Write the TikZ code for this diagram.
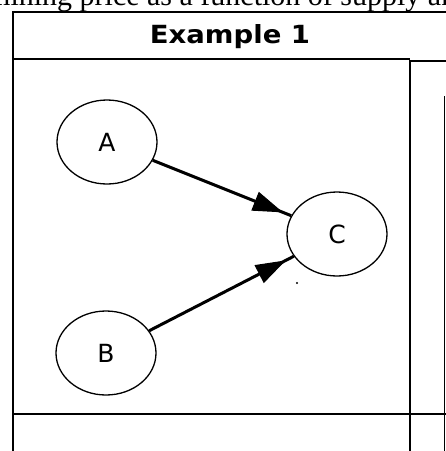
\documentclass[tikz,border=0pt]{standalone}
\usepackage{fontspec}
\setmainfont{Liberation Serif}
\newfontfamily\titlefont{DejaVu Sans}
\usetikzlibrary{shapes.geometric,arrows.meta}
\tikzset{
  frame/.style={line width=2pt},
  thinframe/.style={line width=1pt},
  bubble/.style={ellipse, draw, line width=1.3pt, minimum width=100pt, minimum height=84pt, inner sep=0pt, font=\titlefont\fontsize{25}{25}\selectfont},
  conn/.style={line width=3pt},
  tip/.style={line width=1pt, -{Triangle[length=30pt,width=20pt]}, shorten >=9pt},
}
\begin{document}
\begin{tikzpicture}[x=1pt,y=-1pt]
\useasboundingbox (0,0) rectangle (446,451);
% clipped caption line above the frame
\node[anchor=base west, inner sep=0pt, font=\fontsize{30}{30}\selectfont] (cap) at (-73,5) {determining price as a function of supply and demand};
% frame
\draw[frame] (13,451) -- (13,12) -- (447,12);
\draw[frame] (13,59) -- (410,59);
\draw[frame] (409,61) -- (447,61);
\draw[frame] (410,60) -- (410,451);
\draw[thinframe] (444,96) -- (444,451);
\draw[frame] (13,414) -- (447,414);
% title
\node[anchor=base, inner sep=0pt, xscale=1.1, font=\titlefont\bfseries\fontsize{25}{25}\selectfont] (title) at (230,43) {Example 1};
% nodes
\node[bubble] (A) at (107,142) {A};
\node[bubble] (C) at (337,234) {C};
\node[bubble] (B) at (106,353) {B};
% connectors
\draw[conn] (A) -- (C);
\draw[tip] (A) -- (C);
\draw[conn] (B) -- (C);
\draw[tip] (B) -- (C);
\fill (297,283) circle (1.2pt);
\end{tikzpicture}
\end{document}
